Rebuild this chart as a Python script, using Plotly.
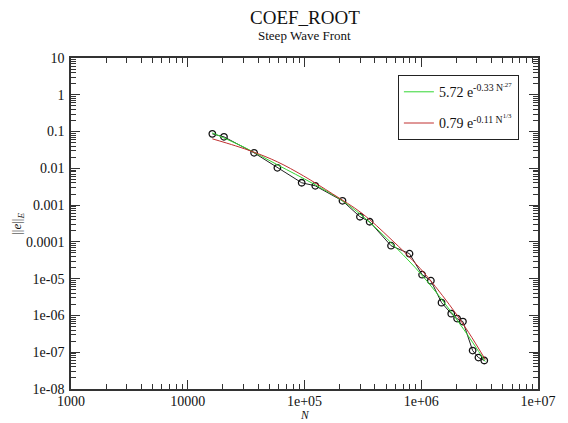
import plotly.graph_objects as go

# ---- data ----
N_data = [16240, 20430, 37000, 58600, 94600, 123700, 211500, 298500, 361500,
          551000, 793000, 1017000, 1209000, 1492000, 1807000, 2028000, 2275000,
          2755000, 3090000, 3466000]
err_data = [0.0865, 0.0718, 0.0264, 0.01032, 0.00405, 0.00335, 0.00131, 0.000483,
            0.000353, 7.87e-5, 4.78e-5, 1.285e-5, 8.83e-6, 2.23e-6, 1.12e-6,
            8.2e-7, 6.8e-7, 1.11e-7, 7.16e-8, 5.95e-8]

N_green = [16240, 31140, 58600, 119000, 211500, 341500, 551000, 889900,
           1436000, 2318000, 3534000]
err_green = [0.0920, 0.0361, 0.01247, 0.00380, 0.00131, 0.000400, 9.5e-5,
             1.99e-5, 3.25e-6, 4.13e-7, 5.58e-8]

N_red = [16240, 25720, 36300, 58600, 98300, 174700, 310200, 551000, 979000,
         1740000, 2551000, 3534000]
err_red = [0.0634, 0.0408, 0.0281, 0.01503, 0.00620, 0.00200, 0.000600,
           0.000118, 1.90e-5, 1.97e-6, 3.42e-7, 6.32e-8]

x_tickvals = [1e3, 1e4, 1e5, 1e6, 1e7]
x_ticktext = ["1000", "10000", "1e+05", "1e+06", "1e+07"]
y_tickvals = [10, 1, 0.1, 0.01, 0.001, 0.0001, 1e-5, 1e-6, 1e-7, 1e-8]
y_ticktext = ["10", "1", "0.1", "0.01", "0.001", "0.0001", "1e-05", "1e-06",
              "1e-07", "1e-08"]

legend_green = "5.72 e<sup>-0.33 N<sup>.27</sup></sup>"
legend_red = "0.79 e<sup>-0.11 N<sup>1/3</sup></sup>"

FONT = "Liberation Serif"

fig = go.Figure()
fig.add_trace(go.Scatter(
    x=N_data, y=err_data, mode="lines+markers", showlegend=False,
    line=dict(color="#222222", width=1),
    marker=dict(symbol="circle-open", size=6.5, color="#111111",
                line=dict(width=1.3, color="#111111")),
))
fig.add_trace(go.Scatter(
    x=N_green, y=err_green, mode="lines", name=legend_green, legendgroup="g",
    line=dict(color="#33d633", width=1, shape="spline"),
))
fig.add_trace(go.Scatter(
    x=N_red, y=err_red, mode="lines", name=legend_red, legendgroup="r",
    line=dict(color="#c03030", width=1, shape="spline"),
))

axis_common = dict(
    showline=True, linecolor="#333333", linewidth=1.5, mirror="allticks",
    ticks="inside", ticklen=9, tickwidth=1, tickcolor="#333333",
    showgrid=False, zeroline=False, ticklabeloverflow="allow",
    tickfont=dict(family=FONT, size=14, color="#111111"),
    minor=dict(ticks="inside", ticklen=5, tickwidth=1, tickcolor="#333333",
               dtick="D1", showgrid=False),
)

fig.update_xaxes(type="log", range=[3, 7], tickvals=x_tickvals,
                 ticktext=x_ticktext, ticklabelstandoff=-2, **axis_common)
fig.update_yaxes(type="log", range=[-8, 1], tickvals=y_tickvals,
                 ticktext=y_ticktext, ticklabelstandoff=2, **axis_common)

# the page body adds an 8px margin, so the figure is 8px smaller each way
fig.update_layout(
    width=560, height=415,
    margin=dict(l=63, r=17, t=50, b=34),
    paper_bgcolor="white", plot_bgcolor="white",
    font=dict(family=FONT, color="#111111"),
    showlegend=True,
    legend=dict(x=0.70, y=0.948, xanchor="left", yanchor="top",
                bgcolor="white", bordercolor="#222222", borderwidth=1,
                font=dict(family=FONT, size=14, color="#111111"),
                itemwidth=30, tracegroupgap=10),
    annotations=[
        dict(text="COEF_ROOT", xref="paper", yref="paper", x=0.5, y=1.121,
             xanchor="center", yanchor="middle", showarrow=False,
             font=dict(family=FONT, size=19, color="#111111")),
        dict(text="Steep Wave Front", xref="paper", yref="paper", x=0.5,
             y=1.068, xanchor="center", yanchor="middle", showarrow=False,
             font=dict(family=FONT, size=13, color="#111111")),
        dict(text="<i>N</i>", xref="paper", yref="paper", x=0.5, y=-0.079,
             xanchor="center", yanchor="middle", showarrow=False,
             font=dict(family=FONT, size=11.5, color="#111111")),
        dict(text="||<i>e</i>||<sub><i>E</i></sub>", xref="paper", yref="paper",
             x=-0.115, y=0.5, xanchor="center", yanchor="middle",
             showarrow=False, textangle=-90,
             font=dict(family=FONT, size=13, color="#111111")),
    ],
)

fig.write_html("out.html")
